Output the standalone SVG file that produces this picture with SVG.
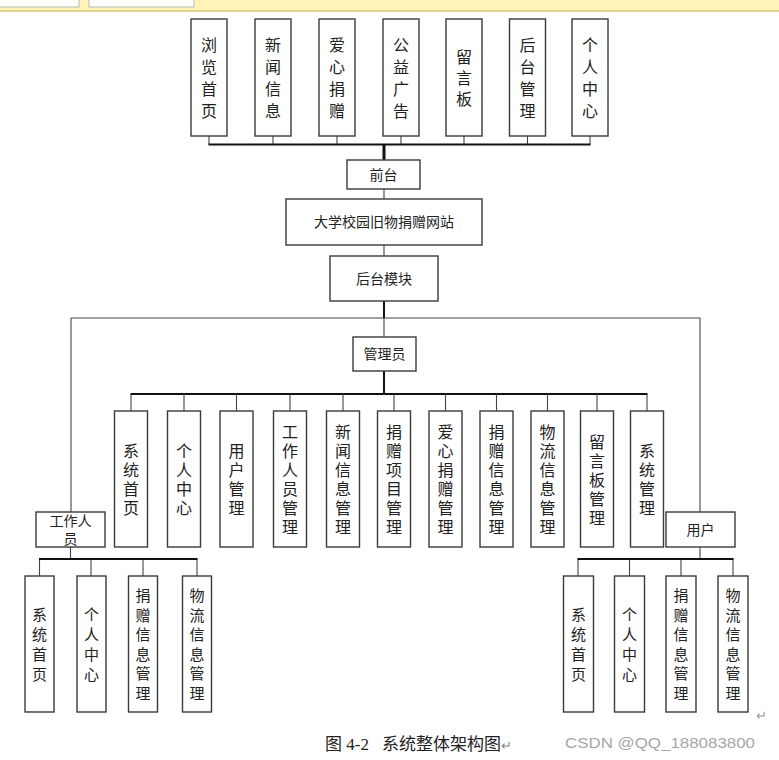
<svg xmlns="http://www.w3.org/2000/svg" width="779" height="760" viewBox="0 0 779 760">
<style>
.bx{fill:#fff;stroke:#3a3a3a;stroke-width:1.4}
.t{font-family:"Liberation Sans","Noto Sans CJK SC",sans-serif;fill:#222;text-anchor:middle;dominant-baseline:central}
.v16{font-size:16px}
.v15{font-size:15px}
.h14{font-size:14px}
.bus{stroke:#111;stroke-width:2;fill:none}
.ln{stroke:#444;stroke-width:1.1;fill:none}
.trk{stroke:#111;stroke-width:3;fill:none}
</style>
<rect x="0" y="0" width="779" height="760" fill="#fff"/>
<g id="topbar">
<rect x="0" y="0" width="779" height="11" fill="#fff3b8"/>
<line x1="0" y1="11" x2="779" y2="11" stroke="#c9a94a" stroke-width="1"/>
<rect x="-1" y="-1" width="80" height="8" fill="#fff" stroke="#a8a8a8" stroke-width="0.8"/>
<rect x="89" y="-1" width="105" height="8" fill="#fff" stroke="#a8a8a8" stroke-width="0.8"/>
</g>
<g id="connectors">
<path class="ln" d="M209 136V144.5M273 136V144.5M337 136V144.5M401 136V144.5M464 136V144.5M527.5 136V144.5M590 136V144.5"/>
<path class="bus" d="M208.5 144.5H590.5"/>
<path class="trk" d="M384 144.5V160"/>
<path class="ln" d="M384 189V199M384 245V256"/>
<path class="bus" d="M384 301V318"/>
<path class="ln" d="M71 318H700M71 318V512M700 318V512M384 318V337"/>
<path class="bus" d="M384 371V394M130.5 394H647.5"/>
<path class="ln" d="M131 394V411M184 394V411M236.5 394V411M290 394V411M343 394V411M394 394V411M445.5 394V411M496.5 394V411M547.5 394V411M597 394V411M647 394V411"/>
<path class="ln" d="M70.5 547V559M578 559V576M629.5 559V576M681 559V576M733 559V576M700 547V559M39.5 559V576M91 559V576M143 559V576M197 559V576"/>
<path class="bus" d="M39 559H197.5M577.5 559H733.5"/>
</g>
<g id="n_browse"><rect class="bx" x="191" y="19" width="36" height="117"/><text class="t v16"><tspan x="209" y="44.5">浏</tspan><tspan x="209" y="66.5">览</tspan><tspan x="209" y="88.5">首</tspan><tspan x="209" y="110.5">页</tspan></text></g>
<g id="n_news"><rect class="bx" x="255" y="19" width="36" height="117"/><text class="t v16"><tspan x="273" y="44.5">新</tspan><tspan x="273" y="66.5">闻</tspan><tspan x="273" y="88.5">信</tspan><tspan x="273" y="110.5">息</tspan></text></g>
<g id="n_love"><rect class="bx" x="319" y="19" width="36" height="117"/><text class="t v16"><tspan x="337" y="44.5">爱</tspan><tspan x="337" y="66.5">心</tspan><tspan x="337" y="88.5">捐</tspan><tspan x="337" y="110.5">赠</tspan></text></g>
<g id="n_ad"><rect class="bx" x="383" y="19" width="36" height="117"/><text class="t v16"><tspan x="401" y="44.5">公</tspan><tspan x="401" y="66.5">益</tspan><tspan x="401" y="88.5">广</tspan><tspan x="401" y="110.5">告</tspan></text></g>
<g id="n_msg"><rect class="bx" x="446" y="19" width="36" height="117"/><text class="t v16"><tspan x="464" y="56.5">留</tspan><tspan x="464" y="77.5">言</tspan><tspan x="464" y="98.5">板</tspan></text></g>
<g id="n_backend"><rect class="bx" x="509.5" y="19" width="36" height="117"/><text class="t v16"><tspan x="527.5" y="44.5">后</tspan><tspan x="527.5" y="66.5">台</tspan><tspan x="527.5" y="88.5">管</tspan><tspan x="527.5" y="110.5">理</tspan></text></g>
<g id="n_personal"><rect class="bx" x="572" y="19" width="36" height="117"/><text class="t v16"><tspan x="590" y="44.5">个</tspan><tspan x="590" y="66.5">人</tspan><tspan x="590" y="88.5">中</tspan><tspan x="590" y="110.5">心</tspan></text></g>
<g id="n_front"><rect class="bx" x="347" y="160" width="73" height="29"/><text class="t h14" x="383.5" y="174.5">前台</text></g>
<g id="n_site"><rect class="bx" x="286" y="199" width="196" height="46"/><text class="t h14" x="384" y="222">大学校园旧物捐赠网站</text></g>
<g id="n_backmod"><rect class="bx" x="330" y="256" width="108" height="45"/><text class="t h14" x="384" y="278.5">后台模块</text></g>
<g id="n_admin"><rect class="bx" x="353" y="337" width="63" height="34"/><text class="t h14" x="384.5" y="354">管理员</text></g>
<g id="a_home"><rect class="bx" x="114.5" y="411" width="33" height="136"/><text class="t v16"><tspan x="131" y="450.5">系</tspan><tspan x="131" y="469.5">统</tspan><tspan x="131" y="488.5">首</tspan><tspan x="131" y="507.5">页</tspan></text></g>
<g id="a_personal"><rect class="bx" x="167.5" y="411" width="33" height="136"/><text class="t v16"><tspan x="184" y="450.5">个</tspan><tspan x="184" y="469.5">人</tspan><tspan x="184" y="488.5">中</tspan><tspan x="184" y="507.5">心</tspan></text></g>
<g id="a_user"><rect class="bx" x="220" y="411" width="33" height="136"/><text class="t v16"><tspan x="236.5" y="450.5">用</tspan><tspan x="236.5" y="469.5">户</tspan><tspan x="236.5" y="488.5">管</tspan><tspan x="236.5" y="507.5">理</tspan></text></g>
<g id="a_staff"><rect class="bx" x="273.5" y="411" width="33" height="136"/><text class="t v16"><tspan x="290" y="431.5">工</tspan><tspan x="290" y="450.5">作</tspan><tspan x="290" y="469.5">人</tspan><tspan x="290" y="488.5">员</tspan><tspan x="290" y="507.5">管</tspan><tspan x="290" y="526.5">理</tspan></text></g>
<g id="a_news"><rect class="bx" x="326.5" y="411" width="33" height="136"/><text class="t v16"><tspan x="343" y="431.5">新</tspan><tspan x="343" y="450.5">闻</tspan><tspan x="343" y="469.5">信</tspan><tspan x="343" y="488.5">息</tspan><tspan x="343" y="507.5">管</tspan><tspan x="343" y="526.5">理</tspan></text></g>
<g id="a_project"><rect class="bx" x="377.5" y="411" width="33" height="136"/><text class="t v16"><tspan x="394" y="431.5">捐</tspan><tspan x="394" y="450.5">赠</tspan><tspan x="394" y="469.5">项</tspan><tspan x="394" y="488.5">目</tspan><tspan x="394" y="507.5">管</tspan><tspan x="394" y="526.5">理</tspan></text></g>
<g id="a_love"><rect class="bx" x="429" y="411" width="33" height="136"/><text class="t v16"><tspan x="445.5" y="431.5">爱</tspan><tspan x="445.5" y="450.5">心</tspan><tspan x="445.5" y="469.5">捐</tspan><tspan x="445.5" y="488.5">赠</tspan><tspan x="445.5" y="507.5">管</tspan><tspan x="445.5" y="526.5">理</tspan></text></g>
<g id="a_donation"><rect class="bx" x="480" y="411" width="33" height="136"/><text class="t v16"><tspan x="496.5" y="431.5">捐</tspan><tspan x="496.5" y="450.5">赠</tspan><tspan x="496.5" y="469.5">信</tspan><tspan x="496.5" y="488.5">息</tspan><tspan x="496.5" y="507.5">管</tspan><tspan x="496.5" y="526.5">理</tspan></text></g>
<g id="a_logistics"><rect class="bx" x="531" y="411" width="33" height="136"/><text class="t v16"><tspan x="547.5" y="431.5">物</tspan><tspan x="547.5" y="450.5">流</tspan><tspan x="547.5" y="469.5">信</tspan><tspan x="547.5" y="488.5">息</tspan><tspan x="547.5" y="507.5">管</tspan><tspan x="547.5" y="526.5">理</tspan></text></g>
<g id="a_msg"><rect class="bx" x="580.5" y="411" width="33" height="136"/><text class="t v16"><tspan x="597" y="441.5">留</tspan><tspan x="597" y="460.5">言</tspan><tspan x="597" y="479.5">板</tspan><tspan x="597" y="498.5">管</tspan><tspan x="597" y="517.5">理</tspan></text></g>
<g id="a_system"><rect class="bx" x="630.5" y="411" width="33" height="136"/><text class="t v16"><tspan x="647" y="450.5">系</tspan><tspan x="647" y="469.5">统</tspan><tspan x="647" y="488.5">管</tspan><tspan x="647" y="507.5">理</tspan></text></g>
<g id="n_staff"><rect class="bx" x="36" y="512" width="69" height="35"/><text class="t" font-size="14"><tspan x="70.5" y="520.5">工作人</tspan><tspan x="70.5" y="538.5">员</tspan></text></g>
<g id="n_user"><rect class="bx" x="666" y="512" width="69" height="35"/><text class="t h14" x="700.5" y="529.5">用户</text></g>
<g id="s_home"><rect class="bx" x="25" y="576" width="29" height="136"/><text class="t v15"><tspan x="39.5" y="614">系</tspan><tspan x="39.5" y="634">统</tspan><tspan x="39.5" y="654">首</tspan><tspan x="39.5" y="674">页</tspan></text></g>
<g id="s_personal"><rect class="bx" x="77" y="576" width="29" height="136"/><text class="t v15"><tspan x="91.5" y="614">个</tspan><tspan x="91.5" y="634">人</tspan><tspan x="91.5" y="654">中</tspan><tspan x="91.5" y="674">心</tspan></text></g>
<g id="s_donation"><rect class="bx" x="128.5" y="576" width="29" height="136"/><text class="t v15"><tspan x="143" y="595">捐</tspan><tspan x="143" y="614.5">赠</tspan><tspan x="143" y="634">信</tspan><tspan x="143" y="653.5">息</tspan><tspan x="143" y="673">管</tspan><tspan x="143" y="692.5">理</tspan></text></g>
<g id="s_logistics"><rect class="bx" x="182.5" y="576" width="29" height="136"/><text class="t v15"><tspan x="197" y="595">物</tspan><tspan x="197" y="614.5">流</tspan><tspan x="197" y="634">信</tspan><tspan x="197" y="653.5">息</tspan><tspan x="197" y="673">管</tspan><tspan x="197" y="692.5">理</tspan></text></g>
<g id="u_home"><rect class="bx" x="563.5" y="576" width="30" height="136"/><text class="t v15"><tspan x="578.5" y="614">系</tspan><tspan x="578.5" y="634">统</tspan><tspan x="578.5" y="654">首</tspan><tspan x="578.5" y="674">页</tspan></text></g>
<g id="u_personal"><rect class="bx" x="614.5" y="576" width="30" height="136"/><text class="t v15"><tspan x="629.5" y="614">个</tspan><tspan x="629.5" y="634">人</tspan><tspan x="629.5" y="654">中</tspan><tspan x="629.5" y="674">心</tspan></text></g>
<g id="u_donation"><rect class="bx" x="666" y="576" width="30" height="136"/><text class="t v15"><tspan x="681" y="595">捐</tspan><tspan x="681" y="614.5">赠</tspan><tspan x="681" y="634">信</tspan><tspan x="681" y="653.5">息</tspan><tspan x="681" y="673">管</tspan><tspan x="681" y="692.5">理</tspan></text></g>
<g id="u_logistics"><rect class="bx" x="718" y="576" width="30" height="136"/><text class="t v15"><tspan x="733" y="595">物</tspan><tspan x="733" y="614.5">流</tspan><tspan x="733" y="634">信</tspan><tspan x="733" y="653.5">息</tspan><tspan x="733" y="673">管</tspan><tspan x="733" y="692.5">理</tspan></text></g>
<g id="caption">
<text x="761" y="720" font-family="'Liberation Serif',serif" font-size="13" fill="#9a9a9a" text-anchor="middle">↵</text>
<text y="750" font-family="'Liberation Serif','Noto Sans CJK SC',serif" font-size="17" fill="#222"><tspan x="325">图 4-2</tspan><tspan x="382">系统整体架构图</tspan><tspan fill="#888" font-size="13">↵</tspan></text>
<text x="565" y="748" font-family="'Liberation Sans',sans-serif" font-size="15.5" fill="#a6a6a6" textLength="190" lengthAdjust="spacingAndGlyphs">CSDN @QQ_188083800</text>
</g>
</svg>
